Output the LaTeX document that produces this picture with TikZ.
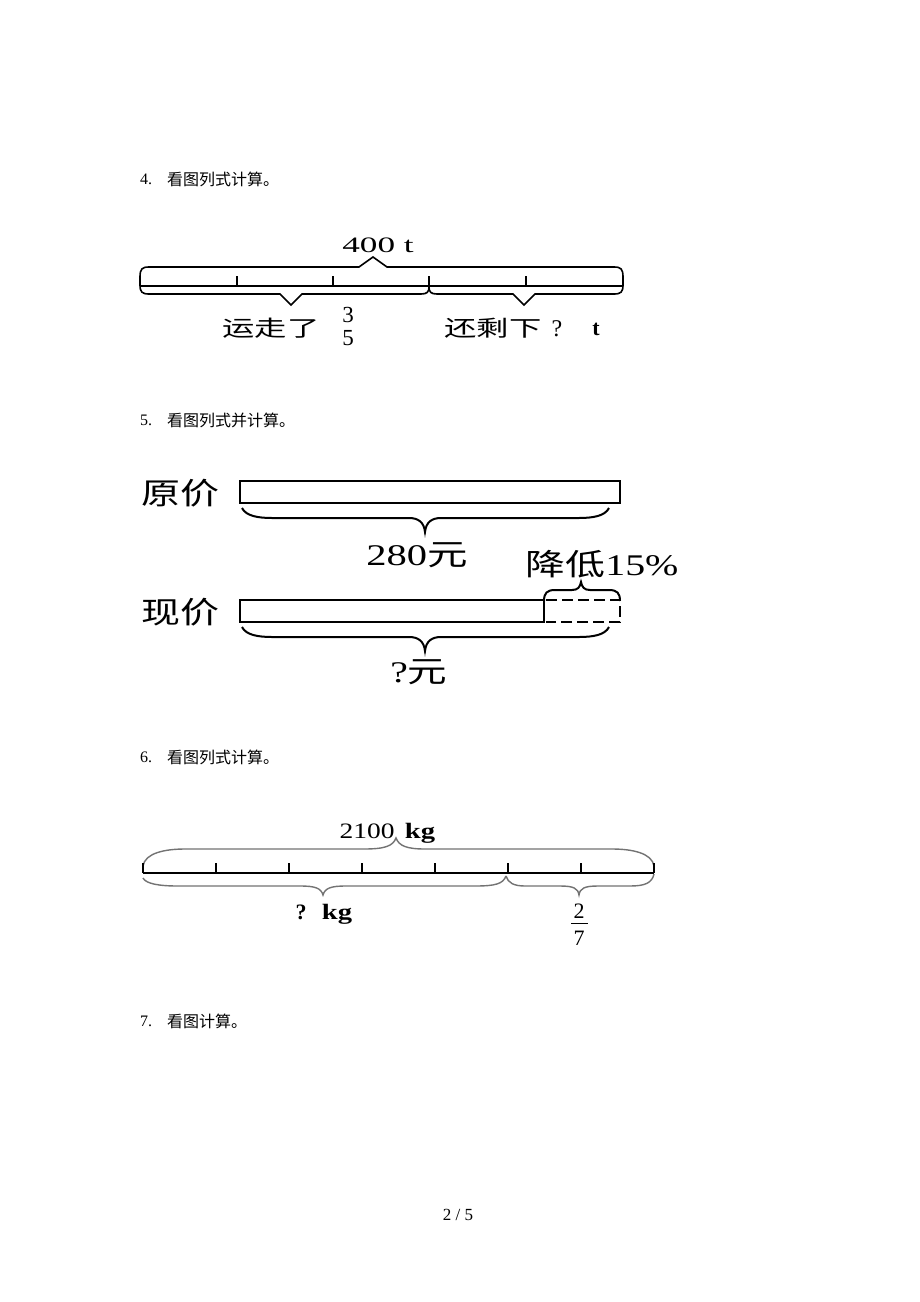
\documentclass[tikz,border=0pt]{standalone}
\usepackage{fontspec}
\usepackage{graphicx}
\setmainfont{Liberation Serif}
\newfontfamily\cjk{Noto Sans CJK SC}
\newcommand\myfs[1]{\fontsize{#1}{#1}\selectfont}
\newcommand\hstretch[2]{\scalebox{#1}[1]{#2}}
\tikzset{
  lbl/.style={inner sep=0pt, outer sep=0pt},
  pfour/.style={line width=1.6pt, black},
  pfive/.style={line width=2pt, black},
  dashfive/.style={line width=2pt, black, dash pattern=on 11pt off 5pt},
  psixline/.style={line width=1.3pt, black},
  psixbrace/.style={line width=1.4pt, black!55},
}
\begin{document}
\begin{tikzpicture}[x=1pt,y=-1pt]
\useasboundingbox (0,0) rectangle (920,1302);
\fill[white] (0,0) rectangle (920,1302);

% ---------- titles ----------
\node[lbl,anchor=west] (n4) at (140,179) {\myfs{16}4.};
\node[lbl,anchor=west] (t4) at (167,179) {\myfs{16}\cjk 看图列式计算。};
\node[lbl,anchor=west] (n5) at (140,420) {\myfs{16}5.};
\node[lbl,anchor=west] (t5) at (167,420) {\myfs{16}\cjk 看图列式并计算。};
\node[lbl,anchor=west] (n6) at (140,757) {\myfs{16}6.};
\node[lbl,anchor=west] (t6) at (167,757) {\myfs{16}\cjk 看图列式计算。};
\node[lbl,anchor=west] (n7) at (140,1021) {\myfs{16}7.};
\node[lbl,anchor=west] (t7) at (167,1021) {\myfs{16}\cjk 看图计算。};
\node[lbl] (footer) at (458,1215) {\myfs{17}2 / 5};

% ---------- problem 4 ----------
\draw[pfour] (140,286) -- (623,286);
\foreach \x in {140,237,333,429,526,623} \draw[pfour] (\x,276) -- (\x,286);
\draw[pfour] (140,277) .. controls (140,269) and (142,267) .. (149,267) -- (359,267) -- (373,257) -- (387,267) -- (614,267) .. controls (621,267) and (623,269) .. (623,277);
\draw[pfour] (140,285) .. controls (140,292) and (142,294) .. (149,294) -- (280,294) -- (291,305) -- (302,294) -- (421,294) .. controls (427,294) and (429,292) .. (429,287);
\draw[pfour] (429,287) .. controls (429,292) and (431,294) .. (437,294) -- (513,294) -- (524,305) -- (535,294) -- (614,294) .. controls (621,294) and (623,292) .. (623,285);
\node[lbl] (total4) at (378,245) {\myfs{22}\hstretch{1.6}{400 t}};
\node[lbl] (moved) at (271,328) {\myfs{22}\hstretch{1.47}{\cjk 运走了}};
\node[lbl] (num3) at (348,315) {\myfs{23}3};
\node[lbl] (den5) at (348,338) {\myfs{23}5};
\node[lbl] (left4) at (493,328) {\myfs{22}\hstretch{1.47}{\cjk 还剩下}};
\node[lbl] (q4) at (557,329) {\myfs{24}?};
\node[lbl] (t4u) at (596,329) {\myfs{22}\bfseries t};

% ---------- problem 5 ----------
\node[lbl] (orig) at (180,493) {\myfs{30}\hstretch{1.3}{\cjk 原价}};
\node[lbl] (now) at (180,612) {\myfs{30}\hstretch{1.3}{\cjk 现价}};
\draw[pfive] (240,481) rectangle (620,503);
\draw[pfive] (242,508) .. controls (246,516) and (258,518) .. (272,518) -- (409,518) .. controls (418,518) and (424,522) .. (425,532) .. controls (426,522) and (432,518) .. (441,518) -- (579,518) .. controls (593,518) and (605,516) .. (609,508);
\node[lbl] (price) at (417,555) {\myfs{30}\hstretch{1.35}{280\cjk 元}};
\node[lbl] (cut) at (602,564) {\myfs{30}\hstretch{1.33}{{\cjk 降低}15\%}};
\draw[pfive] (544,601) .. controls (544,593) and (547,590) .. (555,590) -- (572,590) .. controls (578,590) and (580,587) .. (581,582) .. controls (582,587) and (584,590) .. (590,590) -- (609,590) .. controls (617,590) and (620,593) .. (620,601);
\draw[pfive] (240,600) rectangle (544,622);
\draw[dashfive] (546,600) -- (620,600) -- (620,622) -- (546,622);
\draw[pfive] (242,627) .. controls (246,635) and (258,637) .. (272,637) -- (409,637) .. controls (418,637) and (424,641) .. (425,651) .. controls (426,641) and (432,637) .. (441,637) -- (579,637) .. controls (593,637) and (605,635) .. (609,627);
\node[lbl] (nowprice) at (419,672) {\myfs{30}\hstretch{1.32}{?\cjk 元}};

% ---------- problem 6 ----------
\draw[psixbrace] (143,866) .. controls (145,853) and (165,849) .. (185,849) -- (364,849) .. controls (385,849) and (393,846) .. (396,838) .. controls (399,846) and (407,849) .. (425,849) -- (612,849) .. controls (632,849) and (652,853) .. (654,866);
\draw[psixbrace] (143,878) .. controls (146,884) and (160,886) .. (178,886) -- (300,886) .. controls (315,886) and (321,888) .. (323,895) .. controls (325,888) and (331,886) .. (346,886) -- (475,886) .. controls (495,886) and (503,884) .. (506,876);
\draw[psixbrace] (506,876) .. controls (508,883) and (514,886) .. (525,886) -- (560,886) .. controls (573,886) and (578,888) .. (579,895) .. controls (580,888) and (585,886) .. (598,886) -- (630,886) .. controls (645,886) and (652,883) .. (654,874);
\draw[psixline] (143,873) -- (654,873);
\foreach \x in {143,216,289,362,435,508,581,654} \draw[psixline] (\x,863) -- (\x,873);
\node[lbl,anchor=base] (n2100) at (367,838) {\myfs{22}\hstretch{1.25}{2100}};
\node[lbl,anchor=base] (kg1) at (420,838) {\myfs{22}\hstretch{1.3}{\bfseries kg}};
\node[lbl,anchor=base] (q6) at (301,919) {\myfs{22}\bfseries ?};
\node[lbl,anchor=base] (kg2) at (337,919) {\myfs{22}\hstretch{1.3}{\bfseries kg}};
\node[lbl,anchor=base] (num2) at (579,918) {\myfs{22}2};
\draw[line width=1pt] (571,923) -- (588,923);
\node[lbl,anchor=base] (den7) at (579,945) {\myfs{22}7};
\end{tikzpicture}
\end{document}
